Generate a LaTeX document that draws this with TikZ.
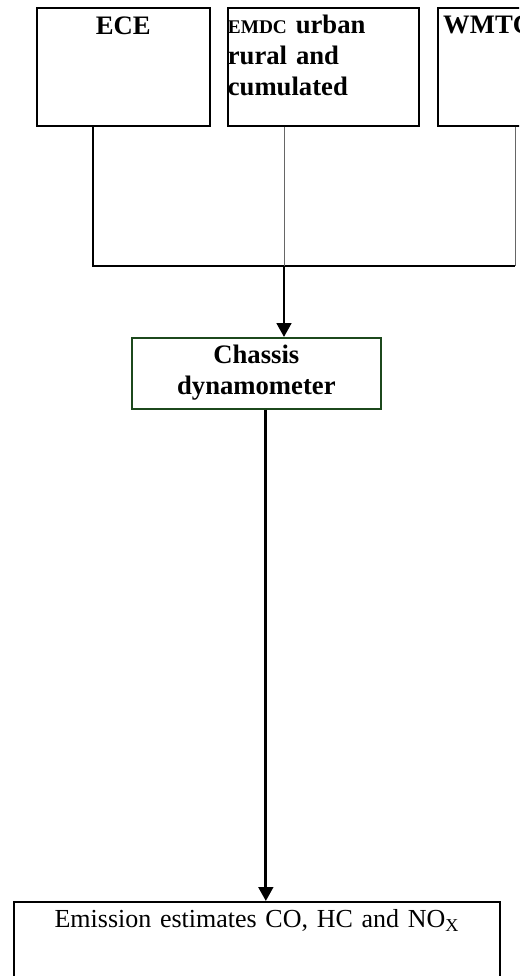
\documentclass[tikz,border=0pt]{standalone}
\usepackage{fontspec}
\setmainfont{Liberation Serif}
\usetikzlibrary{arrows.meta}
\definecolor{boxgreen}{RGB}{28,72,28}
\tikzset{
  testbox/.style={draw, line width=1.3pt, anchor=north west, inner sep=0pt,
    font=\fontsize{20}{23}\selectfont\bfseries},
  feed/.style={line width=1.2pt},
  feedthin/.style={line width=0.7pt, black!60},
  flow/.style={line width=2.1pt, -{Triangle[width=11pt,length=10.5pt]}}
}
\begin{document}
\begin{tikzpicture}[x=0.75pt, y=-0.75pt]
  \useasboundingbox (0,0) rectangle (519,976);
  \clip (0,0) rectangle (519,976);
  % driving cycles
  \node[testbox, text width=129.75pt, align=center,
    text height=20.25pt, text depth=68.25pt] (ece) at (36,7) {ECE};
  \node[testbox, text width=143.25pt, align=left,
    text height=19.5pt, text depth=69pt] (emdc) at (227,7)
    {{\fontsize{14.5}{16}\selectfont EMDC} urban\\rural and\\cumulated};
  \node[testbox, text width=130pt, align=left, inner xsep=4pt,
    text height=19.5pt, text depth=69pt] (wmtc) at (437,7) {WMTC};
  % test bench and results
  \node[testbox, draw=boxgreen, text width=186.75pt, align=center,
    text height=19.5pt, text depth=33.75pt] (chassis) at (131,337)
    {Chassis\\dynamometer};
  \node[testbox, font=\fontsize{19.5}{23}\selectfont, text width=364.5pt,
    align=center, text height=19pt, text depth=63.5pt] (emission) at (13,901)
    {Emission estimates CO, HC and NO\textsubscript{X}};
  % collecting line
  \coordinate (joinL) at (93,266);
  \coordinate (joinM) at (284,266);
  \coordinate (joinR) at (515,266);
  \draw[feed] (joinL |- ece.south) -- (joinL) -- (joinR);
  \draw[feedthin] (joinM |- emdc.south) -- (joinM);
  \draw[feedthin] (joinR |- wmtc.south) -- (joinR);
  \draw[flow] (joinM) -- (joinM |- chassis.north);
  \draw[flow] ([xshift=7.1pt]chassis.south) coordinate (drop)
    -- (drop |- emission.north);
\end{tikzpicture}
\end{document}
